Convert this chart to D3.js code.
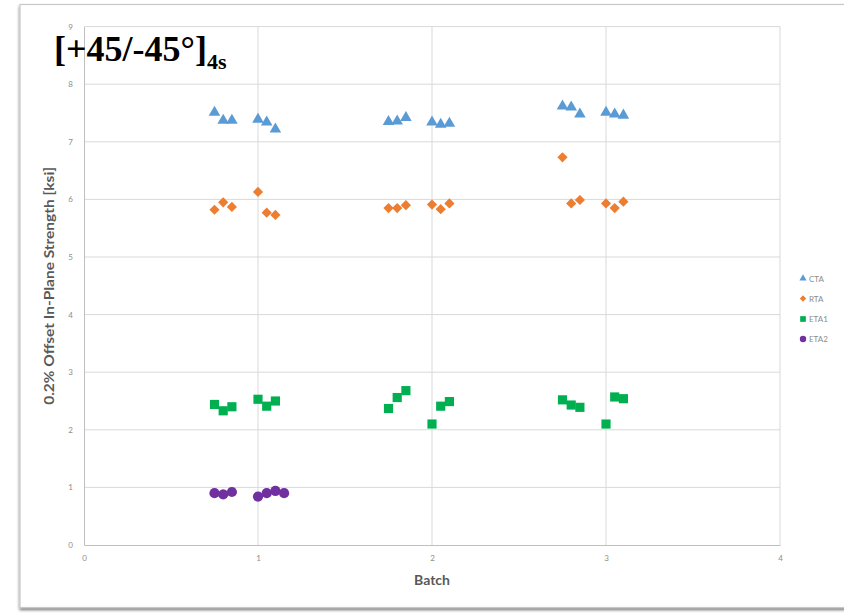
<!DOCTYPE html>
<html>
<head>
<meta charset="utf-8">
<script src="https://cdn.jsdelivr.net/npm/d3@7/dist/d3.min.js"></script>
<style>
  html, body { margin: 0; padding: 0; background: #ffffff; }
  svg { display: block; }
</style>
</head>
<body>
<svg id="chart" width="844" height="613"></svg>
<script>
// Specimen positions along the batch axis
const batchX = [0.75, 0.8, 0.85, 1.0, 1.05, 1.1,
                1.75, 1.8, 1.85, 2.0, 2.05, 2.1,
                2.75, 2.8, 2.85, 3.0, 3.05, 3.1];
const eta2X = [0.75, 0.8, 0.85, 1.0, 1.05, 1.1, 1.15];

// 0.2% offset in-plane strength [ksi]
const ctaValues  = [7.51, 7.37, 7.37, 7.39, 7.34, 7.22,
                    7.35, 7.36, 7.42, 7.34, 7.30, 7.32,
                    7.62, 7.60, 7.48, 7.51, 7.48, 7.46];
const rtaValues  = [5.82, 5.95, 5.87, 6.13, 5.77, 5.73,
                    5.85, 5.85, 5.90, 5.91, 5.83, 5.93,
                    6.73, 5.93, 5.99, 5.93, 5.85, 5.96];
const eta1Values = [2.44, 2.33, 2.40, 2.53, 2.41, 2.50,
                    2.37, 2.56, 2.68, 2.10, 2.41, 2.49,
                    2.52, 2.43, 2.39, 2.10, 2.57, 2.54];
const eta2Values = [0.90, 0.88, 0.92, 0.84, 0.90, 0.94, 0.90];

const seriesNames = ["CTA", "RTA", "ETA1", "ETA2"];
const seriesColors = ["#5B9BD5", "#ED7D31", "#00B050", "#7030A0"];
const xTicks = [0, 1, 2, 3, 4];
const yTicks = [0, 1, 2, 3, 4, 5, 6, 7, 8, 9];

const series = [
  { name: seriesNames[0], color: seriesColors[0], xs: batchX, ys: ctaValues,  shape: "triangle" },
  { name: seriesNames[1], color: seriesColors[1], xs: batchX, ys: rtaValues,  shape: "diamond" },
  { name: seriesNames[2], color: seriesColors[2], xs: batchX, ys: eta1Values, shape: "square" },
  { name: seriesNames[3], color: seriesColors[3], xs: eta2X,  ys: eta2Values, shape: "circle" }
];

const svg = d3.select("#chart");

// Card frame with soft shadow
const defs = svg.append("defs");
const f = defs.append("filter").attr("id", "shadow")
  .attr("x", "-5%").attr("y", "-5%").attr("width", "110%").attr("height", "110%");
f.append("feGaussianBlur").attr("in", "SourceAlpha").attr("stdDeviation", 1.6).attr("result", "b");
f.append("feOffset").attr("in", "b").attr("dx", 0).attr("dy", 2).attr("result", "o");
f.append("feComponentTransfer").attr("in", "o").attr("result", "s")
  .append("feFuncA").attr("type", "linear").attr("slope", 0.55);
const fm = f.append("feMerge");
fm.append("feMergeNode").attr("in", "s");
fm.append("feMergeNode").attr("in", "SourceGraphic");

svg.append("rect")
  .attr("x", 20).attr("y", 4.5).attr("width", 840).attr("height", 603)
  .attr("fill", "#ffffff").attr("stroke", "#c8c8c8").attr("stroke-width", 1.2)
  .attr("filter", "url(#shadow)");

const x = d3.scaleLinear().domain([0, 4]).range([84, 780]);
const y = d3.scaleLinear().domain([0, 9]).range([545, 26.6]);

// Gridlines
const grid = svg.append("g");
grid.selectAll("line.h").data(yTicks.slice(1)).join("line")
  .attr("x1", x(0)).attr("x2", x(4))
  .attr("y1", d => y(d)).attr("y2", d => y(d))
  .attr("stroke", "#d9d9d9").attr("stroke-width", 1);
grid.selectAll("line.v").data(xTicks.slice(1)).join("line")
  .attr("y1", y(0)).attr("y2", y(9))
  .attr("x1", d => x(d)).attr("x2", d => x(d))
  .attr("stroke", "#d9d9d9").attr("stroke-width", 1);

// Axes
const xAxis = svg.append("g").attr("transform", `translate(0,${y(0)})`)
  .call(d3.axisBottom(x).tickValues(xTicks).tickSize(0).tickPadding(10).tickFormat(d3.format("d")));
const yAxis = svg.append("g").attr("transform", `translate(${x(0)},0)`)
  .call(d3.axisLeft(y).tickValues(yTicks).tickSize(0).tickPadding(11).tickFormat(d3.format("d")));
[xAxis, yAxis].forEach(a => {
  a.select(".domain").attr("stroke", "#bfbfbf").attr("stroke-width", 1);
  a.selectAll("text").attr("fill", "#8c8c8c")
    .style("font-family", "Lato, 'Open Sans', sans-serif").style("font-size", "8px");
});

// Axis titles
svg.append("text")
  .attr("x", x(2)).attr("y", 585)
  .attr("text-anchor", "middle")
  .attr("fill", "#595959")
  .style("font-family", "Lato, 'Open Sans', sans-serif")
  .style("font-size", "14px").style("font-weight", "bold")
  .text("Batch");

svg.append("text")
  .attr("transform", `translate(54,${(y(0) + y(9)) / 2}) rotate(-90)`)
  .attr("text-anchor", "middle")
  .attr("fill", "#595959")
  .style("font-family", "Lato, 'Open Sans', sans-serif")
  .style("font-size", "14px").style("font-weight", "bold")
  .attr("textLength", 238).attr("lengthAdjust", "spacingAndGlyphs")
  .text("0.2% Offset In-Plane Strength [ksi]");

// Marker shapes
function symbolPath(shape, scale) {
  const k = scale || 1;
  if (shape === "triangle") return d3.symbol(d3.symbolTriangle, 58 * k * k)();
  if (shape === "diamond") return d3.symbol(d3.symbolSquare, 52 * k * k)();
  if (shape === "square") return d3.symbol(d3.symbolSquare, 84 * k * k)();
  return d3.symbol(d3.symbolCircle, 82 * k * k)();
}

// Data points
series.forEach(s => {
  const pts = s.xs.map((xv, i) => ({ x: xv, y: s.ys[i] }));
  svg.append("g").selectAll("path").data(pts).join("path")
    .attr("d", symbolPath(s.shape))
    .attr("transform", d => `translate(${x(d.x)},${y(d.y)})` + (s.shape === "diamond" ? " rotate(45)" : ""))
    .attr("fill", s.color);
});

// Legend
const legend = svg.append("g");
const legendY = [278.5, 298.5, 319, 339];
series.forEach((s, i) => {
  const g = legend.append("g").attr("transform", `translate(803,${legendY[i]})`);
  g.append("path")
    .attr("d", symbolPath(s.shape, 0.62))
    .attr("transform", s.shape === "diamond" ? "rotate(45)" : null)
    .attr("fill", s.color);
  g.append("text")
    .attr("x", 6).attr("y", 3)
    .attr("fill", "#8c8c8c")
    .style("font-family", "Lato, 'Open Sans', sans-serif").style("font-size", "8px")
    .text(s.name);
});

// Laminate layup title
const title = svg.append("text")
  .attr("x", 54).attr("y", 61)
  .attr("fill", "#000000")
  .style("font-family", "'Times New Roman', 'Liberation Serif', serif")
  .style("font-weight", "bold")
  .style("font-size", "36px");
title.append("tspan").text("[+45/-45°]");
title.append("tspan").attr("dy", 8).style("font-size", "22px").text("4s");
</script>
</body>
</html>
